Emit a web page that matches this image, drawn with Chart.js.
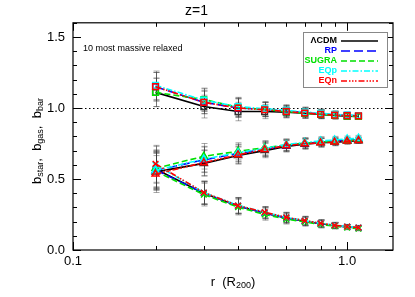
<!DOCTYPE html>
<html><head><meta charset="utf-8">
<script src="https://cdn.jsdelivr.net/npm/chart.js@4/dist/chart.umd.min.js"></script>
<style>html,body{margin:0;padding:0;background:#fff}#c{display:block}</style>
</head><body>
<canvas id="c" width="415" height="297"></canvas>
<script>
// ---------------- data ----------------
const radii = [0.2, 0.3, 0.4, 0.5, 0.6, 0.7, 0.8, 0.9, 1.0, 1.1];
const models = ['ΛCDM', 'RP', 'SUGRA', 'EQp', 'EQn'];

const barLCDM  = [1.11, 1.01, 0.975, 0.975, 0.970, 0.963, 0.955, 0.947, 0.942, 0.940];
const barRP    = [1.15, 1.04, 1.000, 0.990, 0.978, 0.967, 0.958, 0.952, 0.948, 0.945];
const barSUGRA = [1.11, 1.06, 1.005, 0.990, 0.975, 0.963, 0.955, 0.948, 0.943, 0.940];
const barEQp   = [1.16, 1.055, 1.010, 0.995, 0.983, 0.972, 0.963, 0.955, 0.950, 0.947];
const barEQn   = [1.15, 1.04, 1.000, 0.988, 0.976, 0.965, 0.956, 0.950, 0.946, 0.944];

const gasLCDM  = [0.550, 0.610, 0.665, 0.700, 0.730, 0.745, 0.755, 0.760, 0.765, 0.770];
const gasRP    = [0.560, 0.635, 0.680, 0.710, 0.735, 0.750, 0.760, 0.767, 0.772, 0.777];
const gasSUGRA = [0.575, 0.660, 0.695, 0.720, 0.740, 0.752, 0.760, 0.765, 0.770, 0.775];
const gasEQp   = [0.560, 0.640, 0.685, 0.715, 0.742, 0.757, 0.768, 0.775, 0.782, 0.787];
const gasEQn   = [0.535, 0.615, 0.670, 0.708, 0.735, 0.748, 0.755, 0.760, 0.767, 0.772];

const starLCDM  = [0.570, 0.400, 0.310, 0.260, 0.225, 0.203, 0.185, 0.172, 0.163, 0.156];
const starRP    = [0.565, 0.400, 0.310, 0.260, 0.225, 0.203, 0.185, 0.172, 0.163, 0.156];
const starSUGRA = [0.555, 0.390, 0.302, 0.250, 0.218, 0.198, 0.180, 0.168, 0.158, 0.150];
const starEQp   = [0.600, 0.405, 0.315, 0.265, 0.230, 0.207, 0.188, 0.175, 0.165, 0.158];
const starEQn   = [0.607, 0.405, 0.313, 0.266, 0.230, 0.207, 0.188, 0.174, 0.165, 0.158];

const errBar  = [0.10, 0.08, 0.065, 0.05, 0.04, 0.035, 0.03, 0.025, 0.02, 0.02];
const errGas  = [0.13, 0.09, 0.06, 0.05, 0.04, 0.035, 0.03, 0.025, 0.02, 0.02];
const errStar = [0.13, 0.08, 0.055, 0.04, 0.035, 0.03, 0.025, 0.02, 0.015, 0.015];

const xTickValues = [0.1, 1.0];
const xTickLabels = ['0.1', '1.0'];
const yTickValues = [0, 0.5, 1.0, 1.5];
const yTickLabels = ['0.0', '0.5', '1.0', '1.5'];

// ---------------- styles ----------------
const colors = ['#000000', '#0000ff', '#00e000', '#00ffff', '#ff0000'];
const dashes = [[], [9, 4], [6, 3], [6, 2, 1.5, 2], [6, 2, 1.5, 1.5, 1.5, 1.5, 1.5, 2]];
const groups = [
  {vals: [barLCDM, barRP, barSUGRA, barEQp, barEQn], err: errBar, marker: 'rect'},
  {vals: [gasLCDM, gasRP, gasSUGRA, gasEQp, gasEQn], err: errGas, marker: 'triangle'},
  {vals: [starLCDM, starRP, starSUGRA, starEQp, starEQn], err: errStar, marker: 'crossRot'}
];
const FONT = '"Liberation Sans", Arial, sans-serif';

const datasets = [];
groups.forEach((g, gi) => {
  g.vals.forEach((arr, mi) => {
    datasets.push({
      label: models[mi],
      data: radii.map((r, i) => ({x: r, y: arr[i]})),
      err: g.err,
      borderColor: colors[mi],
      backgroundColor: 'rgba(0,0,0,0)',
      borderDash: dashes[mi],
      borderWidth: 1.6,
      pointStyle: g.marker,
      pointRadius: 4,
      pointBorderWidth: 1.5,
      pointBorderColor: mi === 0 ? '#333' : colors[mi],
      pointBackgroundColor: 'rgba(0,0,0,0)',
      order: 4 - mi,
      tension: 0,
      showInLegend: gi === 0
    });
  });
});

function drawSub(ctx, parts, x, y, align) {
  const big = '13px ' + FONT, small = '9px ' + FONT;
  let w = 0;
  parts.forEach(p => { ctx.font = p[1] ? small : big; w += ctx.measureText(p[0]).width; });
  let cx = align === 'center' ? x - w / 2 : x;
  ctx.textBaseline = 'middle';
  ctx.textAlign = 'left';
  parts.forEach(p => {
    ctx.font = p[1] ? small : big;
    ctx.fillText(p[0], cx, p[1] ? y + 4 : y);
    cx += ctx.measureText(p[0]).width;
  });
}

const deco = {
  id: 'deco',
  beforeDatasetsDraw(chart) {
    const {ctx, chartArea: a, scales: {x, y}} = chart;
    ctx.save();
    ctx.strokeStyle = '#000';
    ctx.lineWidth = 1;
    ctx.setLineDash([1.5, 2.5]);
    ctx.beginPath();
    const y1 = Math.round(y.getPixelForValue(1.0)) + 0.5;
    ctx.moveTo(a.left, y1); ctx.lineTo(a.right, y1); ctx.stroke();
    ctx.setLineDash([]);
    ctx.strokeStyle = 'rgba(60,60,60,0.45)';
    ctx.lineWidth = 1;
    chart.data.datasets.forEach((ds) => {
      ds.data.forEach((p, i) => {
        const px = Math.round(x.getPixelForValue(p.x)) + 0.5;
        const top = y.getPixelForValue(p.y + ds.err[i]);
        const bot = y.getPixelForValue(p.y - ds.err[i]);
        ctx.beginPath();
        ctx.moveTo(px, top); ctx.lineTo(px, bot);
        ctx.moveTo(px - 3, top); ctx.lineTo(px + 3, top);
        ctx.moveTo(px - 3, bot); ctx.lineTo(px + 3, bot);
        ctx.stroke();
      });
    });
    ctx.restore();
  },
  afterDraw(chart) {
    const {ctx, chartArea: a, scales: {x, y}} = chart;
    ctx.save();
    ctx.strokeStyle = '#000';
    ctx.lineWidth = 1.2;
    ctx.strokeRect(a.left, a.top, a.right - a.left, a.bottom - a.top);
    ctx.lineWidth = 1;
    ctx.beginPath();
    for (let d = 0.1; d < 2; d *= 10) {
      for (let k = 1; k <= 9; k++) {
        const v = d * k;
        if (v < x.min || v > x.max) continue;
        const px = Math.round(x.getPixelForValue(v)) + 0.5;
        const L = k === 1 ? 8 : 4;
        ctx.moveTo(px, a.bottom); ctx.lineTo(px, a.bottom - L);
        ctx.moveTo(px, a.top); ctx.lineTo(px, a.top + L);
      }
    }
    for (let i = 0; i <= 16; i++) {
      const v = i / 10;
      const py = Math.round(y.getPixelForValue(v)) + 0.5;
      const L = i % 5 === 0 ? 8 : 4;
      ctx.moveTo(a.left, py); ctx.lineTo(a.left + L, py);
      ctx.moveTo(a.right, py); ctx.lineTo(a.right - L, py);
    }
    ctx.stroke();
    ctx.fillStyle = '#000';
    ctx.font = '9px ' + FONT;
    ctx.textBaseline = 'middle';
    ctx.textAlign = 'left';
    ctx.fillText('10 most massive relaxed', 83, 49);
    const lx = 303, ly = 32, lw = 84, lh = 55;
    ctx.fillStyle = '#fff';
    ctx.fillRect(lx, ly, lw, lh);
    ctx.strokeStyle = '#888';
    ctx.lineWidth = 1;
    ctx.strokeRect(lx + 0.5, ly + 0.5, lw, lh);
    ctx.font = 'bold 9px ' + FONT;
    ctx.textAlign = 'right';
    chart.data.datasets.filter(d => d.showInLegend).forEach((ds, i) => {
      const ry = ly + 9 + i * 10;
      ctx.fillStyle = ds.borderColor;
      ctx.fillText(ds.label, 337, ry);
      ctx.strokeStyle = ds.borderColor;
      ctx.lineWidth = 1.6;
      ctx.setLineDash(ds.borderDash);
      ctx.beginPath(); ctx.moveTo(341, ry); ctx.lineTo(378, ry); ctx.stroke();
    });
    ctx.setLineDash([]);
    ctx.fillStyle = '#000';
    drawSub(ctx, [['r  (R', false], ['200', true], [')', false]], (a.left + a.right) / 2, 282, 'center');
    ctx.save();
    ctx.translate(37, 141);
    ctx.rotate(-Math.PI / 2);
    drawSub(ctx, [['b', false], ['star', true], [',  b', false], ['gas', true], [',  b', false], ['bar', true]], 0, 0, 'center');
    ctx.restore();
    ctx.restore();
  }
};

new Chart(document.getElementById('c'), {
  type: 'line',
  data: {datasets},
  options: {
    responsive: false,
    animation: false,
    devicePixelRatio: 1,
    layout: {padding: {left: 0, right: 22, top: 0, bottom: 0}},
    plugins: {
      legend: {display: false},
      tooltip: {enabled: false},
      title: {
        display: true, text: 'z=1', color: '#000',
        font: {family: FONT, size: 14, weight: 'normal'},
        padding: {top: 3, bottom: 3}
      }
    },
    scales: {
      x: {
        type: 'logarithmic', min: 0.1, max: 1.47,
        grid: {display: false, drawTicks: false},
        border: {display: false},
        afterBuildTicks: s => { s.ticks = xTickValues.map(v => ({value: v})); },
        afterFit: s => { s.height = 47; },
        ticks: {
          color: '#000', padding: 4, maxRotation: 0, autoSkip: false,
          font: {family: FONT, size: 13},
          callback: (v) => xTickLabels[xTickValues.indexOf(v)] ?? ''
        }
      },
      y: {
        type: 'linear', min: 0, max: 1.6,
        grid: {display: false, drawTicks: false},
        border: {display: false},
        afterBuildTicks: s => { s.ticks = yTickValues.map(v => ({value: v})); },
        afterFit: s => { s.width = 73; },
        ticks: {
          color: '#000', padding: 8,
          font: {family: FONT, size: 13},
          callback: (v) => yTickLabels[yTickValues.indexOf(v)] ?? ''
        }
      }
    }
  },
  plugins: [deco]
});
</script>
</body></html>
